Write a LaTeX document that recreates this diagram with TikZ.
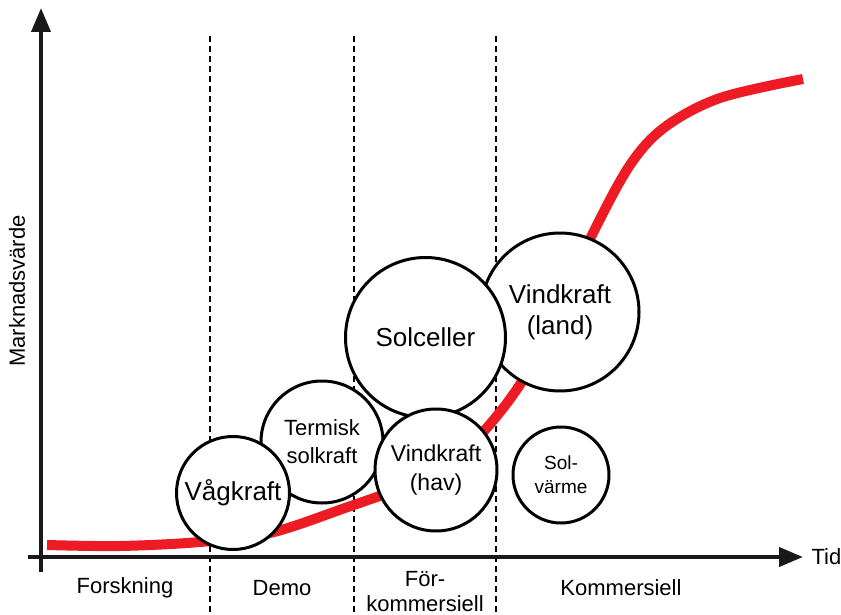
\documentclass[tikz,border=0pt]{standalone}
\usepackage{fontspec}
\setmainfont{Liberation Sans}
\usetikzlibrary{arrows.meta}
\definecolor{curvered}{HTML}{ED1C24}
\tikzset{
  axisline/.style={line width=4pt, draw=black!90},
  divider/.style={line width=1.4pt, dash pattern=on 6pt off 4pt},
  bubble/.style={circle, draw=black, line width=3pt, fill=white, inner sep=0pt, align=center},
  lbl/.style={font=\fontsize{22}{26}\selectfont, align=center}
}
\begin{document}
\begin{tikzpicture}[x=1pt,y=-1pt]
\useasboundingbox (0,0) rectangle (841,615);
% dividers
\foreach \xx/\nm in {210/da,354/db,496/dc}{
  \coordinate (\nm top) at (\xx,36);
  \coordinate (\nm bot) at (\xx,615);
  \draw[divider] (\nm top) -- (\nm bot);
}
% axes
\coordinate (yb) at (41,572);
\coordinate (yt) at (41,8);
\coordinate (xl) at (28,557);
\coordinate (xr) at (803,557);
\draw[axisline, -{Triangle[length=24pt,width=19pt]}] (yb) -- (yt);
\draw[axisline, -{Triangle[length=24pt,width=19pt]}] (xl) -- (xr);
\node[lbl, anchor=west] (tid) at (808,557) {Tid};
\node[lbl, rotate=90] (ylab) at (17,291) {Marknadsvärde};
% phase labels
\node[lbl] (p1) at (125,588) {Forskning};
\node[lbl] (p2) at (282,588) {Demo};
\node[lbl, font=\fontsize{22}{25}\selectfont] (p3) at (425,592) {För-\\kommersiell};
\node[lbl] (p4) at (621,588) {Kommersiell};
% S-curve
\draw[curvered, line width=10pt] plot[smooth, tension=0.55] coordinates {
 (47,545) (120,546) (200,542) (270,533) (345,508) (410,484) (460,455)
 (500,412) (530,368) (560,305) (593,233) (630,165) (665,127) (720,98) (803,79)};
% bubbles
\node[bubble, minimum size=158pt, font=\fontsize{26}{31}\selectfont] (land) at (560,312) {Vindkraft\\(land)};
\node[bubble, minimum size=160pt, font=\fontsize{26}{31}\selectfont] (solc) at (425.5,337.5) {Solceller};
\node[bubble, minimum size=122pt, font=\fontsize{22}{28}\selectfont] (term) at (322,442) {Termisk\\solkraft};
\node[bubble, minimum size=113pt, font=\fontsize{26}{31}\selectfont] (vag) at (233,493) {Vågkraft};
\node[bubble, minimum size=122pt, font=\fontsize{23}{29}\selectfont] (hav) at (436,470) {Vindkraft\\(hav)};
\node[bubble, minimum size=96pt, font=\fontsize{19}{24}\selectfont] (solv) at (561,475) {Sol-\\värme};
\end{tikzpicture}
\end{document}
